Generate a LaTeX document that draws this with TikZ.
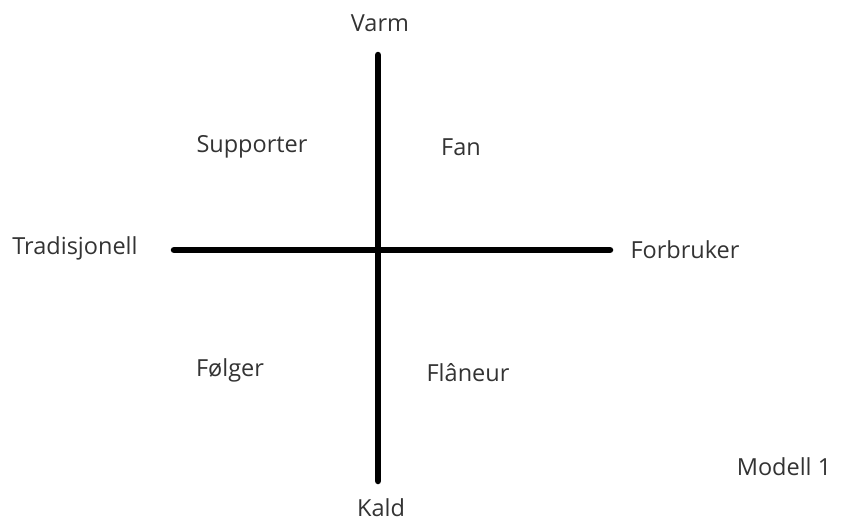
\documentclass[tikz,border=0pt]{standalone}
\usepackage{fontspec}
\setmainfont{Open Sans}
\usetikzlibrary{positioning}
\definecolor{labelgray}{HTML}{333333}
\tikzset{
    axis_line/.style={line width=6.5pt, line cap=round, black},
    axis_label/.style={font=\fontsize{23.5}{28}\selectfont, text=labelgray, inner sep=0pt},
    quad_label/.style={font=\fontsize{23.5}{28}\selectfont, text=labelgray, inner sep=0pt}
}
\begin{document}
\begin{tikzpicture}[x=1pt, y=-1pt]
            % Frame
            \useasboundingbox (0, 0) rectangle (841, 522);
            
            % Axis end points
            \coordinate (top) at (378, 55);
            \coordinate (bottom) at (378, 481);
            \coordinate (left) at (174, 250);
            \coordinate (right) at (610, 250);
            
            % Axes
            \draw [axis_line] (top) -- (bottom);
            \draw [axis_line] (left) -- (right);
            
            % Axis labels
            \node (varm) [axis_label] at (380, 23) {Varm};
            \node (kald) [axis_label] at (381, 508) {Kald};
            \node (trad) [axis_label] at (75, 248) {Tradisjonell};
            \node (forbruker) [axis_label] at (685, 250) {Forbruker};
            
            % Quadrants
            \node (supporter) [quad_label] at (252, 147) {Supporter};
            \node (fan) [quad_label] at (461, 147) {Fan};
            \node (folger) [quad_label] at (230, 370) {Følger};
            \node (flaneur) [quad_label] at (468, 373) {Flâneur};
            
            \node (modell) [axis_label] at (784, 467) {Modell 1};
\end{tikzpicture}
\end{document}
